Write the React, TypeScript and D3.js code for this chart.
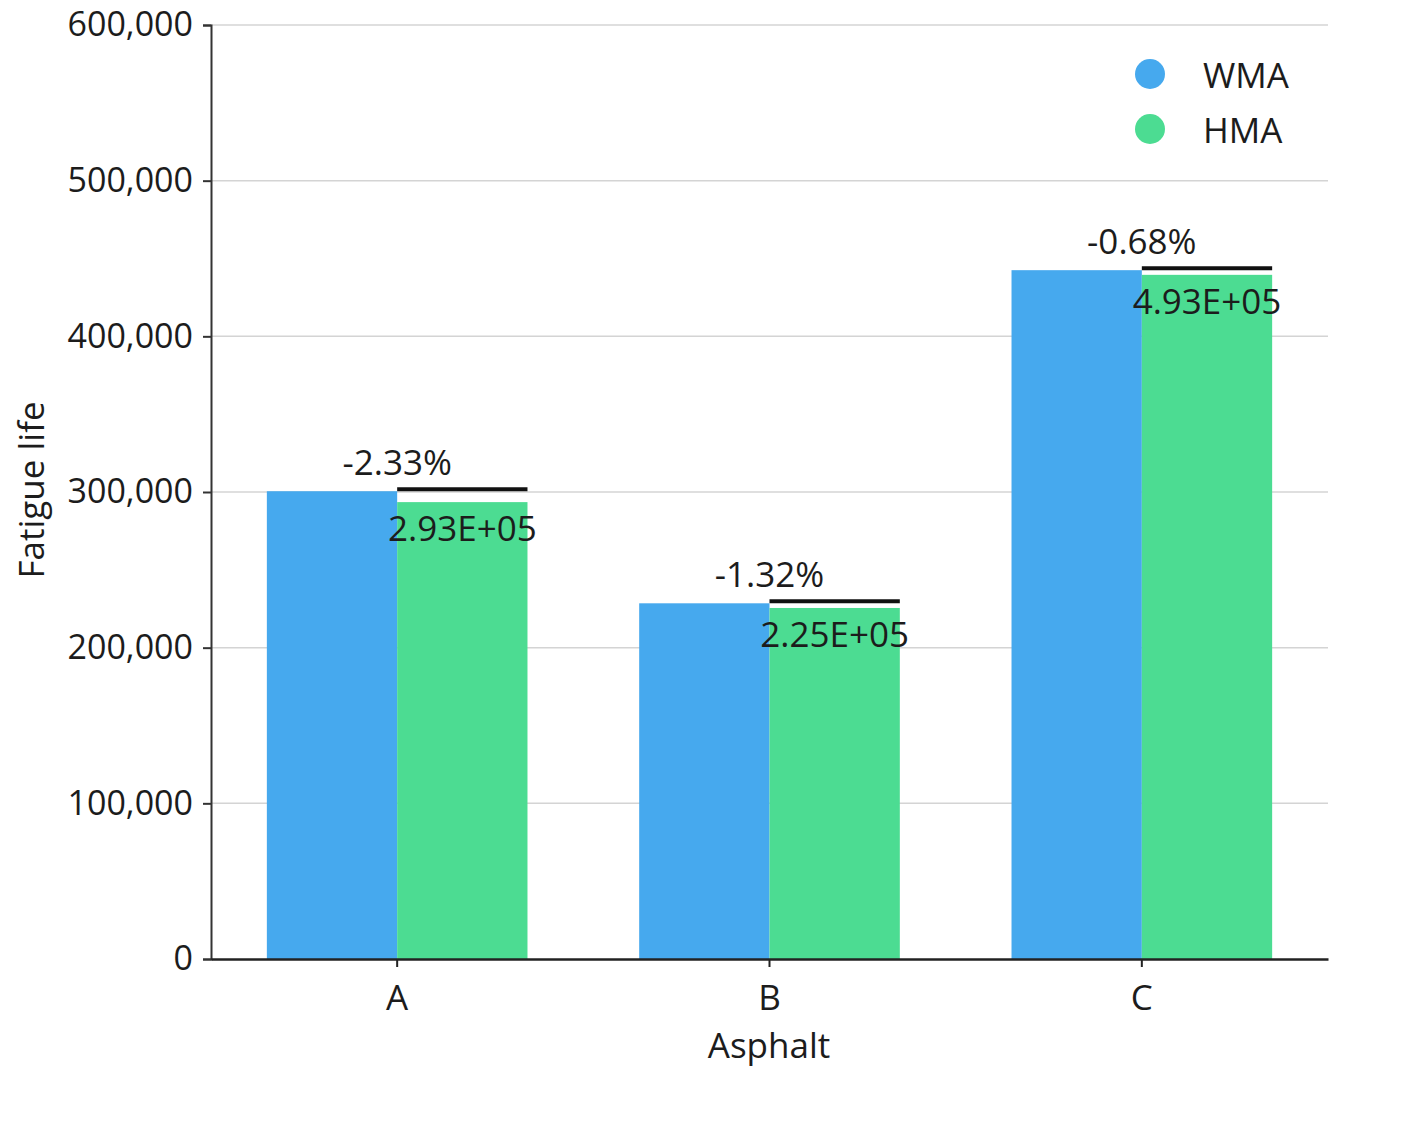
import { useRef, useEffect } from 'react'
import * as d3 from 'd3'

const CATEGORIES = ['A', 'B', 'C']
const SERIES = ['WMA', 'HMA']
const WMA_VALUES = [300500, 228500, 442500]
const HMA_VALUES = [293500, 225500, 439500]
const PCT_LABELS = ['-2.33%', '-1.32%', '-0.68%']
const VALUE_LABELS = ['2.93E+05', '2.25E+05', '4.93E+05']
const Y_TICKS = [0, 100000, 200000, 300000, 400000, 500000, 600000]
const COLORS = ['#46a9ee', '#4cdc92']

const FONT = '"Open Sans", sans-serif'

export default function App() {
  const svgRef = useRef<SVGSVGElement>(null)

  useEffect(() => {
    if (!svgRef.current) return
    const W = 1416
    const H = 1138
    const m = { top: 25, right: 88, bottom: 179, left: 211 }
    const iW = W - m.left - m.right
    const iH = H - m.top - m.bottom

    const svg = d3.select(svgRef.current)
    svg.selectAll('*').remove()
    svg.append('rect').attr('width', W).attr('height', H).attr('fill', '#ffffff')

    const g = svg.append('g').attr('transform', `translate(${m.left},${m.top})`)

    const x0 = d3.scaleBand().domain(CATEGORIES).range([0, iW]).paddingInner(0.3).paddingOuter(0.15)
    const x1 = d3.scaleBand().domain(SERIES).range([0, x0.bandwidth()])
    const y = d3.scaleLinear().domain([0, 600000]).range([iH, 0])

    // grid lines
    g.append('g').selectAll('line')
      .data(Y_TICKS.filter(t => t > 0))
      .enter().append('line')
      .attr('x1', 0).attr('x2', iW)
      .attr('y1', d => y(d)).attr('y2', d => y(d))
      .attr('stroke', '#d4d4d4').attr('stroke-width', 1.5)

    // y axis
    const yAxis = g.append('g').call(
      d3.axisLeft(y).tickValues(Y_TICKS).tickSize(8).tickPadding(10).tickFormat(d => d3.format(',')(Number(d)))
    )
    yAxis.select('.domain').attr('stroke', '#333').attr('stroke-width', 2)
    yAxis.selectAll('line').attr('stroke', '#333').attr('stroke-width', 2)
    yAxis.selectAll('text').attr('fill', '#1c1c1c').attr('font-size', '34px').attr('font-family', FONT)

    // bars
    const groups = g.selectAll('.grp')
      .data(CATEGORIES)
      .enter().append('g')
      .attr('transform', d => `translate(${x0(d)},0)`)

    groups.each(function (_, i) {
      const grp = d3.select(this)
      const vals = [WMA_VALUES[i], HMA_VALUES[i]]
      SERIES.forEach((s, j) => {
        grp.append('rect')
          .attr('x', x1(s)!)
          .attr('width', x1.bandwidth())
          .attr('y', y(vals[j]))
          .attr('height', iH - y(vals[j]))
          .attr('fill', COLORS[j])
      })
      // reference line at WMA level over HMA bar
      grp.append('line')
        .attr('x1', x1('HMA')!).attr('x2', x1('HMA')! + x1.bandwidth())
        .attr('y1', y(WMA_VALUES[i]) - 2).attr('y2', y(WMA_VALUES[i]) - 2)
        .attr('stroke', '#111').attr('stroke-width', 4)
      grp.append('text')
        .attr('x', x0.bandwidth() / 2)
        .attr('y', y(WMA_VALUES[i]) - 16)
        .attr('text-anchor', 'middle')
        .attr('fill', '#1c1c1c').attr('font-size', '35px').attr('font-family', FONT)
        .text(PCT_LABELS[i])
      grp.append('text')
        .attr('x', x1('HMA')! + x1.bandwidth() / 2)
        .attr('y', y(HMA_VALUES[i]) + 39)
        .attr('text-anchor', 'middle')
        .attr('fill', '#1c1c1c').attr('font-size', '35px').attr('font-family', FONT)
        .text(VALUE_LABELS[i])
    })

    // x axis
    const xAxis = g.append('g').attr('transform', `translate(0,${iH})`).call(
      d3.axisBottom(x0).tickSize(8).tickSizeOuter(0).tickPadding(18)
    )
    xAxis.select('.domain').attr('stroke', '#222').attr('stroke-width', 2.5)
    xAxis.selectAll('line').attr('stroke', '#222').attr('stroke-width', 2)
    xAxis.selectAll('text').attr('fill', '#1c1c1c').attr('font-size', '35px').attr('font-family', FONT)

    // axis titles
    g.append('text')
      .attr('x', iW / 2 - 0.5).attr('y', iH + 99)
      .attr('text-anchor', 'middle').attr('fill', '#1c1c1c')
      .attr('font-size', '35px').attr('font-family', FONT)
      .text('Asphalt')
    g.append('text')
      .attr('transform', 'rotate(-90)')
      .attr('x', -(iH / 2) + 2).attr('y', -167)
      .attr('text-anchor', 'middle').attr('fill', '#1c1c1c')
      .attr('font-size', '35px').attr('font-family', FONT)
      .text('Fatigue life')

    // legend
    const legend = svg.append('g').attr('transform', 'translate(1150,74)')
    SERIES.forEach((s, j) => {
      const row = legend.append('g').attr('transform', `translate(0,${j * 55})`)
      row.append('circle').attr('r', 15).attr('fill', COLORS[j])
      row.append('text')
        .attr('x', 53).attr('y', 0)
        .attr('dominant-baseline', 'central')
        .attr('fill', '#1c1c1c').attr('font-size', '35px').attr('font-family', FONT)
        .text(s)
    })
  }, [])

  return (
    <svg
      ref={svgRef}
      width={1416}
      height={1138}
      style={{ position: 'absolute', left: 0, top: 0, display: 'block' }}
    />
  )
}
